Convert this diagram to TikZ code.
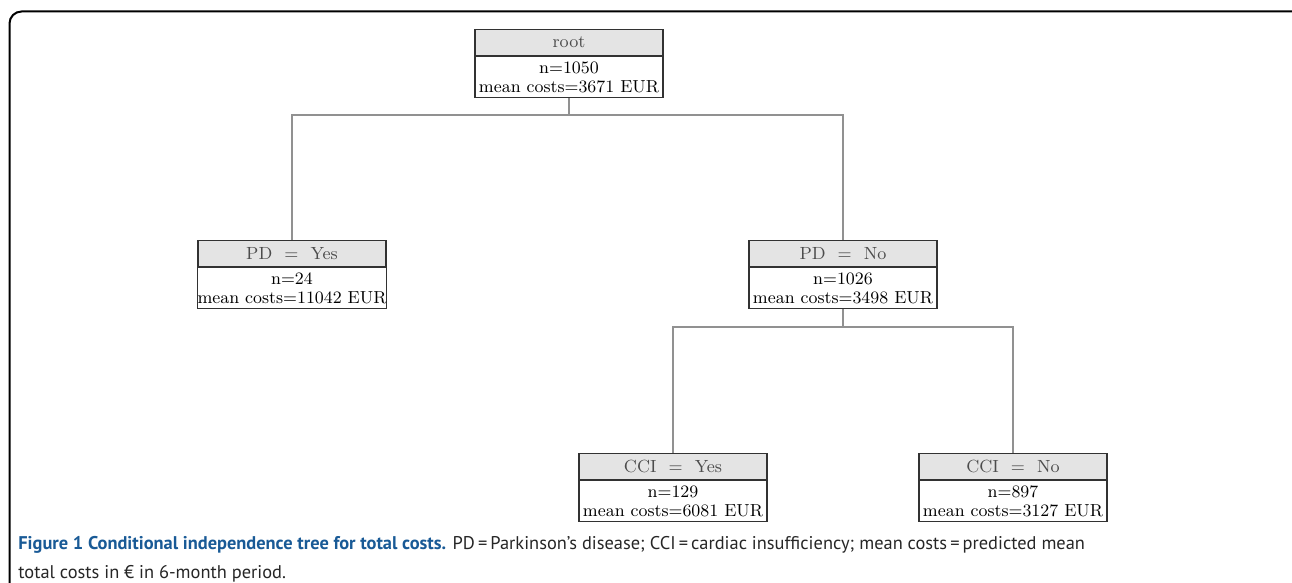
\documentclass[tikz,border=0pt]{standalone}
\usepackage{fontspec}
\newfontfamily\capfont{PT Sans}
\usetikzlibrary{positioning}
\definecolor{capblue}{RGB}{25,90,150}
\definecolor{hdrgray}{RGB}{228,228,228}
\definecolor{boxline}{RGB}{50,50,50}
\definecolor{conngray}{RGB}{145,145,145}
\tikzset{
  hdr/.style={draw=boxline, line width=0.6pt, fill=hdrgray, minimum width=94pt, minimum height=13pt, inner sep=0pt, anchor=north, text=black!70, font=\fontsize{8.8}{8.8}\selectfont},
  body/.style={draw=boxline, line width=0.6pt, fill=white, minimum width=94pt, minimum height=20.5pt, inner sep=0pt, align=center, below=0pt of #1, font=\fontsize{8.7}{8.6}\selectfont},
  conn/.style={draw=conngray, line width=0.6pt},
  captxt/.style={anchor=base west, inner sep=0pt, font=\capfont\fontsize{9.2}{10}\selectfont, text=black!85}
}
\begin{document}
\begin{tikzpicture}[x=0.5pt,y=-0.5pt]
\useasboundingbox (0,0) rectangle (1292,583);
\begin{scope}
\clip (0,0) rectangle (1292,583);
\coordinate (frameNW) at (9.5,11.5);
\coordinate (frameSE) at (1400,640);
\draw[black, line width=1pt, rounded corners=6pt] (frameNW) -- (frameNW -| frameSE) -- (frameSE) -- (frameSE -| frameNW) -- cycle;
\end{scope}
% root
\node[hdr] (rootH) at (569,29) {root};
\node[body=rootH] (root) {n=1050\\[0.5pt]mean costs=3671 EUR};
% level 1
\node[hdr] (pdyH) at (292,240) {PD\ \ =\ \ Yes};
\node[body=pdyH] (pdy) {n=24\\[0.5pt]mean costs=11042 EUR};
\node[hdr] (pdnH) at (843,240) {PD\ \ =\ \ No};
\node[body=pdnH] (pdn) {n=1026\\[0.5pt]mean costs=3498 EUR};
% level 2
\node[hdr] (cciyH) at (673,453) {CCI\ \ =\ \ Yes};
\node[body=cciyH] (cciy) {n=129\\[0.5pt]mean costs=6081 EUR};
\node[hdr] (ccinH) at (1013,453) {CCI\ \ =\ \ No};
\node[body=ccinH] (ccin) {n=897\\[0.5pt]mean costs=3127 EUR};
% connectors
\draw[conn] (root.south) -- (root.south |- 0,115) -| (pdyH.north);
\draw[conn] (root.south |- 0,115) -| (pdnH.north);
\draw[conn] (pdn.south) -- (pdn.south |- 0,327) -| (cciyH.north);
\draw[conn] (pdn.south |- 0,327) -| (ccinH.north);
% caption
\node[captxt] (cap1) at (18,549) {\textbf{\color{capblue}Figure 1 Conditional independence tree for total costs.} PD\,=\,Parkinson’s disease; CCI\,=\,cardiac insufficiency; mean costs\,=\,predicted mean};
\node[captxt] (cap2) at (18,578) {total costs in € in 6-month period.};
\end{tikzpicture}
\end{document}
